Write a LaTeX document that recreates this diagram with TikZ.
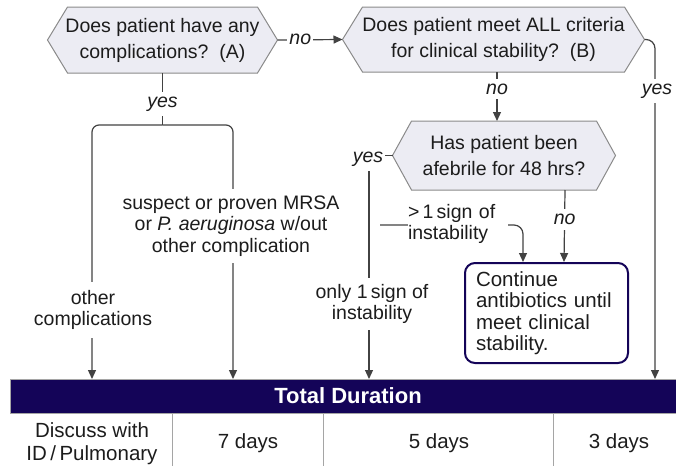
\documentclass[tikz,border=0pt]{standalone}
\usepackage{fontspec}
\setmainfont{Liberation Sans}
\usetikzlibrary{arrows.meta,calc}
\definecolor{navy}{RGB}{20,4,88}
\definecolor{hexfill}{RGB}{236,236,243}
\definecolor{hexline}{RGB}{138,138,138}
\definecolor{conncol}{RGB}{66,66,66}
\definecolor{txt}{RGB}{28,28,28}
\definecolor{divcol}{RGB}{165,165,165}
\tikzset{
  hextext/.style={inner sep=0pt, align=center, text=txt, font=\fontsize{19.5}{26}\selectfont},
  hexshape/.style={fill=hexfill, draw=hexline, line width=1pt, line join=miter},
  conn/.style={draw=conncol, line width=1.2pt},
  arr/.style={conn, -{Triangle[length=9pt,width=8pt]}},
  lbl/.style={fill=white, inner xsep=2pt, inner ysep=5pt, text=txt, font=\fontsize{19.5}{22}\selectfont\itshape},
  gaplbl/.style={fill=white, align=center, inner xsep=1pt, inner ysep=7pt, text=txt, font=\fontsize{19.5}{21.5}\selectfont},
  dbox/.style={draw=navy, line width=2pt, rounded corners=10pt, minimum width=163pt, minimum height=100pt,
     inner xsep=11pt, text width=141pt, align=left, text=txt, font=\fontsize{20.5}{21.5}\selectfont},
  barbox/.style={fill=navy, draw=divcol, line width=0.8pt, minimum width=666pt, minimum height=34pt, inner sep=0pt},
  bartitle/.style={text=white, inner sep=0pt, font=\fontsize{22}{24}\selectfont\bfseries},
  cell/.style={align=center, inner sep=0pt, text=txt, font=\fontsize{20.5}{23}\selectfont},
  divider/.style={draw=divcol, line width=0.9pt}
}
\newcommand{\hexpath}[4]{%
  \draw[hexshape] ($(#1)+(-#2,-#3)$) -- ($(#1)+(#2,-#3)$) -- ($(#1)+(#2+#4,0)$) -- ($(#1)+(#2,#3)$) -- ($(#1)+(-#2,#3)$) -- ($(#1)+(-#2-#4,0)$) -- cycle;
  \coordinate (#1w) at ($(#1)+(-#2-#4,0)$);
  \coordinate (#1e) at ($(#1)+(#2+#4,0)$);
}
\begin{document}
\begin{tikzpicture}[x=1pt,y=-1pt]
\useasboundingbox (0,0) rectangle (676,466);

% hexagons
\coordinate (Ac) at (162.5,40);
\coordinate (Bc) at (493.5,39.5);
\coordinate (Cc) at (504,155.5);
\hexpath{Ac}{95}{33}{20}
\hexpath{Bc}{131}{32.5}{20}
\hexpath{Cc}{92.5}{34.5}{19}
\node[hextext] (A) at (Ac) {Does patient have any\\complications?~~(A)};
\node[hextext] (B) at (Bc) {Does patient meet ALL criteria\\for clinical stability?~~(B)};
\node[hextext] (C) at (Cc) {Has patient been\\afebrile for 48 hrs?};

% box D
\node[dbox] (D) at (546.5,313) {Continue\\antibiotics until\\meet clinical\\stability.};

% bar and table
\node[barbox] (bar) at (343,396) {};
\node[bartitle] (title) at (348,396) {Total Duration};
\draw[divider] (172,413) -- (172,466);
\draw[divider] (323,413) -- (323,466);
\draw[divider] (553,413) -- (553,466);
\node[cell] (c1) at (92,443.5) {Discuss with\\ID\,/\,Pulmonary};
\node[cell] (c2) at (248,443) {7 days};
\node[cell] (c3) at (439,443) {5 days};
\node[cell] (c4) at (619,443) {3 days};

% connector coordinates
\coordinate (As) at (162.5,73);
\coordinate (brA) at (162.5,125);
\coordinate (eOther) at (92,379);
\coordinate (eMRSA) at (233,379);
\coordinate (eYesC) at (369,379);
\coordinate (eYesB) at (655,379);
\coordinate (Bs) at (497,72);
\coordinate (Cn) at (497,121);
\coordinate (Cs) at (565,190);
\coordinate (g1) at (380,225);
\coordinate (Dn1) at ($(D.north west)+(59,0)$);
\coordinate (Dn2) at ($(D.north west)+(100,0)$);

% connectors
\draw[arr] (Ace) -- node[lbl, pos=0.35] (noA) {no} (Bcw);
\draw[conn] (As) -- node[lbl, pos=0.6] (yesA) {yes} (brA);
\draw[arr, rounded corners=7pt] (brA) -| (eOther);
\draw[arr, rounded corners=7pt] (brA) -| (eMRSA);
\draw[arr] (Bs) -- node[lbl, pos=0.35] (noB) {no} (Cn);
\draw[arr, rounded corners=9pt] (Bce) -| (eYesB);
\draw[arr] (Ccw) -| (eYesC);
\draw[arr, rounded corners=9pt] (g1) -| (Dn1);
\draw[arr] (Cs) -- node[lbl, pos=0.41] (noC) {no} (Dn2);

% labels on connectors
\node[gaplbl, inner ysep=8pt] (lOther) at (93,310) {other\\complications};
\node[gaplbl] (lMRSA) at (231,226) {suspect or proven MRSA\\or \textit{P. aeruginosa} w/out\\other complication};
\node[gaplbl, inner ysep=6pt] (lOnly) at (372,304) {only 1\,sign of\\instability};
\node[gaplbl, align=left, text width=100pt, inner xsep=0pt, inner ysep=3pt] (lMore) at (458,224) {>\,1\,sign of\\instability};
\node[lbl] (yesB) at (657,91) {yes};
\node[lbl] (yesC) at (368,159) {yes};
\end{tikzpicture}
\end{document}
